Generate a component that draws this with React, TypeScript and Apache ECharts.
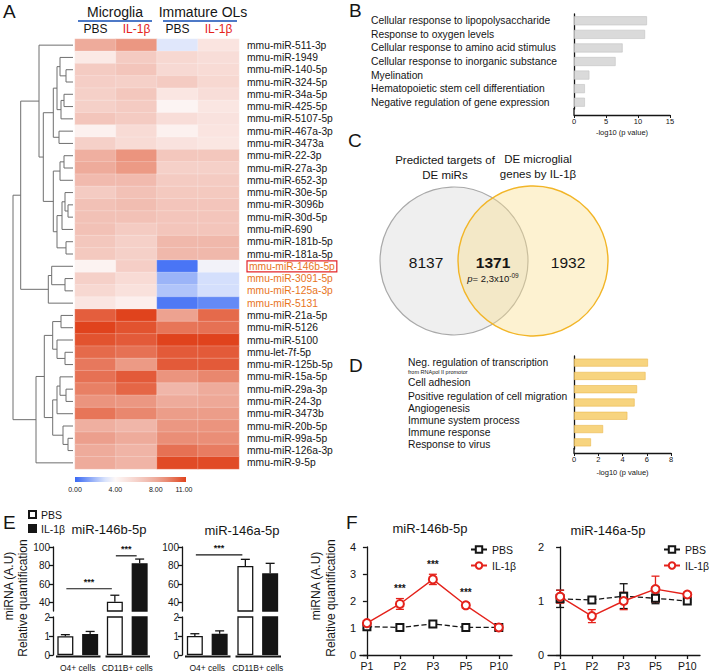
import React, { useEffect, useRef } from 'react';
import * as echarts from 'echarts';

const FONT = '"Liberation Sans", Arial, Helvetica, sans-serif';
const RED = '#e4221b';
const ORANGE = '#e8741c';
const INK = '#151515';

// ---------------- Panel A : heatmap ----------------
const heatColumns = ['PBS', 'IL-1β', 'PBS', 'IL-1β'];
const heatGroups = ['Microglia', 'Immature OLs'];
const mirnas = [
  'mmu-miR-511-3p', 'mmu-miR-1949', 'mmu-miR-140-5p', 'mmu-miR-324-5p', 'mmu-miR-34a-5p',
  'mmu-miR-425-5p', 'mmu-miR-5107-5p', 'mmu-miR-467a-3p', 'mmu-miR-3473a', 'mmu-miR-22-3p',
  'mmu-miR-27a-3p', 'mmu-miR-652-3p', 'mmu-miR-30e-5p', 'mmu-miR-3096b', 'mmu-miR-30d-5p',
  'mmu-miR-690', 'mmu-miR-181b-5p', 'mmu-miR-181a-5p', 'mmu-miR-146b-5p', 'mmu-miR-3091-5p',
  'mmu-miR-125a-3p', 'mmu-miR-5131', 'mmu-miR-21a-5p', 'mmu-miR-5126', 'mmu-miR-5100',
  'mmu-let-7f-5p', 'mmu-miR-125b-5p', 'mmu-miR-15a-5p', 'mmu-miR-29a-3p', 'mmu-miR-24-3p',
  'mmu-miR-3473b', 'mmu-miR-20b-5p', 'mmu-miR-99a-5p', 'mmu-miR-126a-3p', 'mmu-miR-9-5p',
];
const mgPBS = [8, 4.8, 6.5, 6.3, 6.2, 6.2, 6.8, 4.4, 6.2, 7.8, 8, 7.3, 6.5, 7, 7, 7, 6.7, 6.6, 4.3, 6.2, 5.8, 5, 10.3, 11, 10.6, 10, 9.6, 9.8, 9.4, 8.8, 9.7, 7.8, 8.4, 8, 8];
const mgIL = [8.7, 6.5, 6.8, 6.2, 6.7, 6.5, 6.5, 5.6, 5.6, 8.8, 8.6, 7.3, 7, 7.2, 7, 6.5, 6.2, 6.2, 6.3, 5.6, 5.3, 4.5, 11, 10.6, 10.4, 9.8, 8.6, 10.4, 10.1, 8.7, 9.2, 7.5, 8, 7.6, 7.6];
const olPBS = [3.2, 5.8, 5.7, 6.5, 5, 4.2, 5.5, 4.4, 5.2, 6.7, 6.2, 6.5, 6.6, 6.8, 6.8, 6.8, 7.4, 7.4, 0.3, 1.8, 2.2, 0.4, 8.3, 9.7, 11, 10.4, 10.4, 8.8, 7.5, 8, 8.5, 8.7, 9, 9.8, 10.8];
const olIL = [5.1, 5.5, 5.6, 5.8, 5.5, 5, 5.2, 5.1, 5, 6.7, 6.2, 6.5, 6.6, 6.8, 6.8, 6.8, 7.4, 7.4, 3.7, 2.9, 2.9, 0.8, 10, 9.8, 11, 10.4, 10.4, 9.2, 8, 8.1, 8.5, 8.8, 9, 9.5, 10.8];
const orangeMirnas = ['mmu-miR-146b-5p', 'mmu-miR-3091-5p', 'mmu-miR-125a-3p', 'mmu-miR-5131'];
const boxedMirna = 'mmu-miR-146b-5p';
const heatColors = ['#3a69f4', '#6f92f6', '#a6bcf9', '#d9e3fc', '#fdf8f7', '#fae6e2', '#f6d4cd', '#f2c1b6', '#eeab9b', '#ea8e77', '#e56a4b', '#e0431d'];
const heatMin = 0;
const heatMax = 11;
const colorbarTicks = [0, 4, 8, 11];
// linkage: [child, child, height]; children >= 35 refer to earlier merges
const dendroMerges: [number, number, number][] = [
  [2, 3, 7], [1, 35, 13], [4, 5, 9], [37, 6, 12], [36, 38, 16], [7, 8, 14], [39, 40, 19.7],
  [9, 10, 9], [42, 11, 13], [13, 14, 5], [12, 44, 8], [45, 15, 11], [16, 17, 7], [46, 47, 16],
  [43, 48, 19.7], [41, 49, 29.7], [0, 50, 34], [19, 20, 8], [18, 52, 21.3], [53, 21, 24.7],
  [51, 54, 52.3], [22, 23, 12], [25, 26, 8], [24, 57, 16], [56, 58, 20.3], [28, 29, 7],
  [27, 60, 13], [61, 30, 16], [32, 33, 5], [31, 63, 10], [62, 64, 20.3], [59, 65, 28.7],
  [66, 34, 37], [55, 67, 60],
];

// ---------------- Panel B ----------------
const bTerms = [
  'Cellular response to lipopolysaccharide', 'Response to oxygen levels',
  'Cellular response to amino acid stimulus', 'Cellular response to inorganic substance',
  'Myelination', 'Hematopoietic stem cell differentiation', 'Negative regulation of gene expression',
];
const bValues = [11.4, 11.1, 7.6, 6.5, 2.4, 1.7, 1.7];
const goAxisTitle = '-log10 (p value)';

// ---------------- Panel C ----------------
const vennLeftTitle = ['Predicted targets of', 'DE miRs'];
const vennRightTitle = ['DE microglial', 'genes by IL-1β'];
const vennCounts = ['8137', '1371', '1932'];
const vennP = ['p', '= 2,3x10', '-09'];

// ---------------- Panel D ----------------
const dTerms = [
  'Neg. regulation of transcription', 'Cell adhesion', 'Positive regulation of cell migration',
  'Angiogenesis', 'Immune system process', 'Immune response', 'Response to virus',
];
const dSubTerm = 'from RNApol II promotor';
const dValues = [6.1, 5.9, 5.2, 5.0, 4.4, 2.4, 1.4];

// ---------------- Panel E ----------------
const eCells = ['O4+ cells', 'CD11B+ cells'];
const e146bPBS = [0.99, 41];
const e146bPBSErr = [0.08, 7];
const e146bIL = [1.11, 82.5];
const e146bILErr = [0.13, 4.5];
const e146aPBS = [1.0, 79.5];
const e146aPBSErr = [0.12, 7.2];
const e146aIL = [1.12, 71.6];
const e146aILErr = [0.15, 10.8];
// [cell, condition, cell, condition, height]
const e146bSig = [[0, 0, 1, 0, 55], [1, 0, 1, 1, 90.5]];
const e146aSig = [[0, 0, 1, 0, 91.5]];

// ---------------- Panel F ----------------
const fTimes = ['P1', 'P2', 'P3', 'P5', 'P10'];
const f146bPBS = [1.05, 1.02, 1.15, 1.02, 1.02];
const f146bPBSErr = [0.06, 0.05, 0.1, 0.05, 0.1];
const f146bIL = [1.18, 1.89, 2.8, 1.84, 1.02];
const f146bILErr = [0.08, 0.2, 0.19, 0.1, 0.12];
const f146bSig = ['', '***', '***', '***', ''];
const f146aPBS = [1.04, 1.02, 1.09, 1.05, 1.0];
const f146aPBSErr = [0.16, 0.03, 0.23, 0.1, 0.02];
const f146aIL = [1.08, 0.72, 1.0, 1.22, 1.12];
const f146aILErr = [0.12, 0.12, 0.16, 0.24, 0.04];
const f146aSig = ['', '', '', '', ''];

// ============================================================
const txt = (text: string, x: number, y: number, size: number, extra: any = {}) => ({
  type: 'text', x, y, silent: true,
  style: { text, fontSize: size, fontFamily: FONT, fill: INK, align: 'left', verticalAlign: 'middle', ...extra },
});
const seg = (x1: number, y1: number, x2: number, y2: number, stroke = INK, lineWidth = 1.3) => ({
  type: 'line', silent: true, shape: { x1, y1, x2, y2 }, style: { stroke, lineWidth },
});

function buildOption() {
  const grid: any[] = [];
  const xAxis: any[] = [];
  const yAxis: any[] = [];
  const series: any[] = [];
  const axisLine = { show: true, lineStyle: { color: INK, width: 1.3 } };

  // ---- A heatmap (grid 0) ----
  grid.push({ left: 75, top: 39, width: 164, height: 430 });
  xAxis.push({
    gridIndex: 0, type: 'category', data: heatColumns, position: 'top',
    axisLine: { show: false }, axisTick: { show: false },
    axisLabel: {
      interval: 0, margin: 4, fontSize: 12, fontFamily: FONT, color: INK,
      formatter: (_v: string, i: number) => (i % 2 ? `{r|${heatColumns[i]}}` : heatColumns[i]),
      rich: { r: { color: RED, fontSize: 12, fontFamily: FONT } },
    },
  });
  yAxis.push({
    gridIndex: 0, type: 'category', data: mirnas, inverse: true, position: 'right',
    axisLine: { show: false }, axisTick: { show: false },
    axisLabel: {
      interval: 0, margin: 8, fontSize: 10.3, fontFamily: FONT, color: INK,
      formatter: (v: string) => (v === boxedMirna ? `{box|${v}}` : orangeMirnas.includes(v) ? `{o|${v}}` : v),
      rich: {
        o: { color: ORANGE, fontSize: 10.3, fontFamily: FONT },
        box: { color: ORANGE, fontSize: 10.3, fontFamily: FONT, borderColor: '#e3262b', borderWidth: 1.2, padding: [1, 2, 0, 2] },
      },
    },
  });
  const heat: any[] = [];
  [mgPBS, mgIL, olPBS, olIL].forEach((col, c) => col.forEach((v, r) => heat.push([c, r, v])));
  series.push({
    type: 'heatmap', xAxisIndex: 0, yAxisIndex: 0, data: heat,
    itemStyle: { borderColor: 'rgba(255,255,255,0.45)', borderWidth: 0.5 },
  });

  // ---- A dendrogram (grid 1) ----
  grid.push({ left: 13, top: 39, width: 60, height: 430 });
  xAxis.push({ gridIndex: 1, type: 'value', min: 0, max: 60, inverse: true, show: false });
  yAxis.push({ gridIndex: 1, type: 'value', min: -0.5, max: mirnas.length - 0.5, inverse: true, show: false });
  const pos: { y: number; h: number }[] = mirnas.map((_, i) => ({ y: i, h: 0 }));
  const links: number[][] = [];
  dendroMerges.forEach(([a, b, h]) => {
    const A = pos[a], B = pos[b];
    links.push([A.h, A.y, B.h, B.y, h]);
    pos.push({ y: (A.y + B.y) / 2, h });
  });
  series.push({
    type: 'custom', xAxisIndex: 1, yAxisIndex: 1, data: links, silent: true,
    encode: { x: [0, 2, 4], y: [1, 3] },
    renderItem: (_p: any, api: any) => {
      const hA = api.value(0), yA = api.value(1), hB = api.value(2), yB = api.value(3), h = api.value(4);
      return {
        type: 'polyline',
        shape: { points: [api.coord([hA, yA]), api.coord([h, yA]), api.coord([h, yB]), api.coord([hB, yB])] },
        style: { stroke: '#6f6f6f', lineWidth: 1, fill: null },
      };
    },
  });

  // ---- B (grid 2) ----
  grid.push({ left: 574, top: 14, width: 96, height: 95 });
  xAxis.push({
    gridIndex: 2, type: 'value', min: 0, max: 15, interval: 5, offset: 6,
    axisLine, axisTick: { show: true, length: 3, lineStyle: { color: INK } }, splitLine: { show: false },
    axisLabel: { fontSize: 7.5, margin: 2, fontFamily: FONT, color: INK },
    name: goAxisTitle, nameLocation: 'middle', nameGap: 13, nameTextStyle: { fontSize: 7.5, fontFamily: FONT, color: INK },
  });
  yAxis.push({
    gridIndex: 2, type: 'category', data: bTerms, inverse: true,
    axisLine, axisTick: { show: false },
    axisLabel: { interval: 0, align: 'left', margin: 203, fontSize: 10.3, fontFamily: FONT, color: INK },
  });
  series.push({
    type: 'bar', xAxisIndex: 2, yAxisIndex: 2, data: bValues, barWidth: 9,
    itemStyle: { color: '#dadada', borderColor: '#c2c2c2', borderWidth: 0.6 },
  });

  // ---- D (grid 3) ----
  grid.push({ left: 574, top: 356, width: 97, height: 93 });
  xAxis.push({
    gridIndex: 3, type: 'value', min: 0, max: 8, interval: 2, offset: 4,
    axisLine, axisTick: { show: true, length: 3, lineStyle: { color: INK } }, splitLine: { show: false },
    axisLabel: { fontSize: 7.5, margin: 2, fontFamily: FONT, color: INK },
    name: goAxisTitle, nameLocation: 'middle', nameGap: 15, nameTextStyle: { fontSize: 7.5, fontFamily: FONT, color: INK },
  });
  yAxis.push({
    gridIndex: 3, type: 'category', data: dTerms, inverse: true,
    axisLine, axisTick: { show: false }, axisLabel: { show: false },
  });
  series.push({
    type: 'bar', xAxisIndex: 3, yAxisIndex: 3, data: dValues, barWidth: 8,
    itemStyle: { color: '#f7d47f', borderColor: '#ebb94f', borderWidth: 0.6 },
  });

  // ---- E (grids 4..7) ----
  const UP_MIN = 31, UP_MAX = 100;
  const pbsStyle = { color: '#ffffff', borderColor: INK, borderWidth: 1.3 };
  const ilStyle = { color: INK, borderColor: INK, borderWidth: 1.3 };
  const OFF = 12.4;
  const eErr = (_p: any, api: any) => {
    const cat = api.value(0), side = api.value(1), m = api.value(2), e = api.value(3);
    const b = api.coord([cat, m]);
    const t = api.coord([cat, m + e]);
    const x = b[0] + (side ? OFF : -OFF);
    return {
      type: 'group', children: [
        { type: 'line', shape: { x1: x, y1: b[1], x2: x, y2: t[1] }, style: { stroke: INK, lineWidth: 1.3 } },
        { type: 'line', shape: { x1: x - 4.5, y1: t[1], x2: x + 4.5, y2: t[1] }, style: { stroke: INK, lineWidth: 1.3 } },
      ],
    };
  };
  const eBracket = (_p: any, api: any) => {
    const c1 = api.value(0), s1 = api.value(1), c2 = api.value(2), s2 = api.value(3), h = api.value(4);
    const p1 = api.coord([c1, h]);
    const p2 = api.coord([c2, h]);
    const x1 = p1[0] + (s1 ? OFF : -OFF) + 1;
    const x2 = p2[0] + (s2 ? OFF : -OFF) - 3;
    return {
      type: 'group', children: [
        { type: 'line', shape: { x1, y1: p1[1], x2, y2: p1[1] }, style: { stroke: INK, lineWidth: 1.2 } },
        { type: 'text', x: (x1 + x2) / 2, y: p1[1] - 2, style: { text: '***', fontSize: 9, fontWeight: 'bold', fontFamily: FONT, fill: INK, align: 'center', verticalAlign: 'bottom' } },
      ],
    };
  };
  const eGroupLine = (_p: any, api: any) => {
    const c = api.coord([api.value(0), 0]);
    const half = api.size([1, 0])[0] / 2;
    return { type: 'line', shape: { x1: c[0] - half + 3, y1: c[1] + 1.5, x2: c[0] + half - 2, y2: c[1] + 1.5 }, style: { stroke: INK, lineWidth: 2.2 } };
  };
  const makeE = (left: number, width: number, pbs: number[], pbsErr: number[], il: number[], ilErr: number[], sig: number[][]) => {
    const up = grid.length, lo = up + 1;
    grid.push({ left, top: 547, width, height: 64 });
    grid.push({ left, top: 617, width, height: 39 });
    xAxis.push({ gridIndex: up, type: 'category', data: eCells, show: false });
    xAxis.push({
      gridIndex: lo, type: 'category', data: eCells, axisLine: { show: false }, axisTick: { show: false },
      axisLabel: { interval: 0, fontSize: 8.5, margin: 8, fontFamily: FONT, color: INK },
    });
    yAxis.push({
      gridIndex: up, type: 'value', min: UP_MIN, max: UP_MAX, axisLine, splitLine: { show: false },
      axisTick: { show: true, length: 4, customValues: [40, 60, 80, 100], lineStyle: { color: INK, width: 1.3 } },
      axisLabel: { customValues: [40, 60, 80, 100], fontSize: 10, margin: 3, fontFamily: FONT, color: INK },
    });
    yAxis.push({
      gridIndex: lo, type: 'value', min: 0, max: 2, interval: 1, axisLine, splitLine: { show: false },
      axisTick: { show: true, length: 4, lineStyle: { color: INK, width: 1.3 } },
      axisLabel: { fontSize: 10, margin: 3, fontFamily: FONT, color: INK },
    });
    const base = { type: 'bar', barWidth: 16, barGap: '55%', clip: true };
    const inUp = (v: number) => (v > UP_MIN ? v : '-');
    series.push({ ...base, name: 'PBS', xAxisIndex: up, yAxisIndex: up, data: pbs.map(inUp), itemStyle: pbsStyle });
    series.push({ ...base, name: 'IL-1β', xAxisIndex: up, yAxisIndex: up, data: il.map(inUp), itemStyle: ilStyle });
    series.push({ ...base, name: 'PBS', xAxisIndex: lo, yAxisIndex: lo, data: pbs, itemStyle: pbsStyle });
    series.push({ ...base, name: 'IL-1β', xAxisIndex: lo, yAxisIndex: lo, data: il, itemStyle: ilStyle });
    const items = [
      ...pbs.map((m, i) => [i, 0, m, pbsErr[i]]),
      ...il.map((m, i) => [i, 1, m, ilErr[i]]),
    ];
    series.push({
      type: 'custom', xAxisIndex: up, yAxisIndex: up, silent: true, z: 5, encode: { x: 0, y: 2 },
      data: items.filter((d) => d[2] > UP_MIN), renderItem: eErr,
    });
    series.push({
      type: 'custom', xAxisIndex: lo, yAxisIndex: lo, silent: true, z: 5, encode: { x: 0, y: 2 },
      data: items.filter((d) => d[2] < 2), renderItem: eErr,
    });
    series.push({
      type: 'custom', xAxisIndex: up, yAxisIndex: up, silent: true, z: 5, encode: { x: 0, y: 4 },
      data: sig, renderItem: eBracket, clip: false,
    });
    series.push({
      type: 'custom', xAxisIndex: lo, yAxisIndex: lo, silent: true, z: 5, encode: { x: 0, y: 1 },
      data: eCells.map((_, i) => [i, 0]), renderItem: eGroupLine, clip: false,
    });
  };
  makeE(53, 99, e146bPBS, e146bPBSErr, e146bIL, e146bILErr, e146bSig);
  makeE(182, 101, e146aPBS, e146aPBSErr, e146aIL, e146aILErr, e146aSig);

  // ---- F ----
  const fErr = (_p: any, api: any) => {
    const x = api.value(0), m = api.value(1), e = api.value(2), kind = api.value(3);
    const c = kind ? RED : INK;
    const a = api.coord([x, m - e]);
    const b = api.coord([x, m + e]);
    const st = { stroke: c, lineWidth: 1.3 };
    return {
      type: 'group', children: [
        { type: 'line', shape: { x1: a[0], y1: a[1], x2: b[0], y2: b[1] }, style: st },
        { type: 'line', shape: { x1: a[0] - 4, y1: a[1], x2: a[0] + 4, y2: a[1] }, style: st },
        { type: 'line', shape: { x1: b[0] - 4, y1: b[1], x2: b[0] + 4, y2: b[1] }, style: st },
      ],
    };
  };
  const makeF = (left: number, xmin: number, ymax: number, pbs: number[], pbsErr: number[], il: number[], ilErr: number[], sig: string[]) => {
    const g = grid.length;
    grid.push({ left, top: 547, width: 152, height: 108 });
    const ticks = fTimes.map((_, i) => i);
    xAxis.push({
      gridIndex: g, type: 'value', min: xmin, max: 4.4, axisLine, splitLine: { show: false },
      axisTick: { show: true, length: 4, customValues: ticks, lineStyle: { color: INK, width: 1.3 } },
      axisLabel: { customValues: ticks, formatter: (v: number) => fTimes[Math.round(v)] || '', fontSize: 10.5, margin: 5, fontFamily: FONT, color: INK },
    });
    yAxis.push({
      gridIndex: g, type: 'value', min: 0, max: ymax, interval: 1, axisLine, splitLine: { show: false },
      axisTick: { show: true, length: 4, lineStyle: { color: INK, width: 1.3 } },
      axisLabel: { fontSize: 11, margin: 4, fontFamily: FONT, color: INK },
    });
    series.push({
      type: 'custom', xAxisIndex: g, yAxisIndex: g, silent: true, z: 2, encode: { x: 0, y: 1 },
      data: [...pbs.map((m, i) => [i, m, pbsErr[i], 0]), ...il.map((m, i) => [i, m, ilErr[i], 1])],
      renderItem: fErr,
    });
    series.push({
      type: 'line', name: 'PBS ', xAxisIndex: g, yAxisIndex: g, data: pbs.map((v, i) => [i, v]),
      symbol: 'emptyRect', symbolSize: 7, z: 3,
      lineStyle: { type: 'dashed', width: 1.3, color: INK }, itemStyle: { color: INK, borderWidth: 1.3 },
    });
    series.push({
      type: 'line', name: 'IL-1β ', xAxisIndex: g, yAxisIndex: g, data: il.map((v, i) => [i, v]),
      symbol: 'emptyCircle', symbolSize: 8, z: 4,
      lineStyle: { width: 1.4, color: RED }, itemStyle: { color: RED, borderWidth: 1.3 },
    });
    const sigIdx = sig.map((s, i) => (s ? i : -1)).filter((i) => i >= 0);
    series.push({
      type: 'custom', xAxisIndex: g, yAxisIndex: g, silent: true, z: 5, encode: { x: 0, y: 1 },
      data: sigIdx.map((i) => [i, il[i] + ilErr[i]]),
      renderItem: (_p: any, api: any) => {
        const i = api.value(0);
        const p = api.coord([i, api.value(1)]);
        return { type: 'text', x: p[0], y: p[1] - 5, style: { text: sig[i], fontSize: 10, fontWeight: 'bold', fontFamily: FONT, fill: INK, align: 'center', verticalAlign: 'bottom' } };
      },
    });
  };
  makeF(360, -0.21, 4, f146bPBS, f146bPBSErr, f146bIL, f146bILErr, f146bSig);
  makeF(548, -0.38, 2, f146aPBS, f146aPBSErr, f146aIL, f146aILErr, f146aSig);

  // ---- graphics ----
  const cbStops = heatColors.map((c, i) => ({ offset: i / (heatColors.length - 1), color: c }));
  const CB_X = 75, CB_W = 111;
  const dLabelY = [362, 382, 396, 408, 420, 432, 444];
  const graphic: any[] = [
    txt('A', 3, 11, 19), txt('B', 349, 10, 19), txt('C', 348, 140, 19),
    txt('D', 349, 365, 19), txt('E', 3, 522, 19), txt('F', 346, 522, 19),
    // A headers
    txt(heatGroups[0], 115, 12, 14, { align: 'center' }),
    txt(heatGroups[1], 203, 12, 14, { align: 'center' }),
    seg(78, 21, 152, 21, '#4d79c7', 1.8), seg(163, 21, 237, 21, '#4d79c7', 1.8),
    // colorbar
    { type: 'rect', silent: true, shape: { x: CB_X, y: 477, width: CB_W, height: 5 }, style: { fill: new echarts.graphic.LinearGradient(0, 0, 1, 0, cbStops) } },
    ...colorbarTicks.map((t) => txt(t.toFixed(2), CB_X + ((t - heatMin) / (heatMax - heatMin)) * CB_W - (t === heatMax ? 2 : 0), 489, 7, { align: 'center' })),
    // B / D axis extensions
    seg(574, 108, 574, 115), seg(574, 448, 574, 453),
    // C venn
    { type: 'circle', silent: true, shape: { cx: 454, cy: 261, r: 74 }, style: { fill: '#efefef', stroke: '#a9a9a9', lineWidth: 1.2 } },
    { type: 'circle', silent: true, shape: { cx: 533, cy: 261, r: 75 }, style: { fill: 'rgba(250,222,140,0.4)', stroke: '#f2b527', lineWidth: 1.4 } },
    txt(vennLeftTitle[0], 445, 160, 11.5, { align: 'center' }),
    txt(vennLeftTitle[1], 445, 175, 11.5, { align: 'center' }),
    txt(vennRightTitle[0], 538, 159, 11.5, { align: 'center' }),
    txt(vennRightTitle[1], 538, 174, 11.5, { align: 'center' }),
    txt(vennCounts[0], 426, 262, 15.5, { align: 'center' }),
    txt(vennCounts[1], 493, 262, 15.5, { align: 'center', fontWeight: 'bold' }),
    txt(vennCounts[2], 568, 262, 15.5, { align: 'center' }),
    {
      type: 'text', x: 493, y: 278, silent: true,
      style: {
        text: `{i|${vennP[0]}}{n|${vennP[1]}}{s|${vennP[2]}}`, align: 'center', verticalAlign: 'middle',
        rich: {
          i: { fontSize: 9.5, fontStyle: 'italic', fontFamily: FONT, fill: INK },
          n: { fontSize: 9.5, fontFamily: FONT, fill: INK },
          s: { fontSize: 6.5, fontFamily: FONT, fill: INK, padding: [0, 0, 6, 0] },
        },
      },
    },
    // D labels
    ...dTerms.map((t, i) => txt(t, 408, dLabelY[i], 10.3)),
    txt(dSubTerm, 408, 372, 5.5),
    // E / F titles
    txt('miR-146b-5p', 109, 529, 13, { align: 'center' }),
    txt('miR-146a-5p', 242, 530, 13, { align: 'center' }),
    txt('miR-146b-5p', 430, 528, 13, { align: 'center' }),
    txt('miR-146a-5p', 608, 530, 13, { align: 'center' }),
    // y titles
    { ...txt('miRNA (A.U)', 9, 586, 12, { align: 'center' }), rotation: Math.PI / 2 },
    { ...txt('Relative quantification', 23, 598, 12, { align: 'center' }), rotation: Math.PI / 2 },
    { ...txt('miRNA (A.U)', 316, 586, 12, { align: 'center' }), rotation: Math.PI / 2 },
    { ...txt('Relative quantification', 331, 598, 12, { align: 'center' }), rotation: Math.PI / 2 },
  ];

  const legendText = { fontSize: 10.5, fontFamily: FONT, color: INK };
  return {
    animation: false,
    backgroundColor: '#ffffff',
    textStyle: { fontFamily: FONT },
    grid, xAxis, yAxis, series, graphic,
    visualMap: { type: 'continuous', min: heatMin, max: heatMax, show: false, seriesIndex: 0, inRange: { color: heatColors } },
    legend: [
      {
        left: 28, top: 509, orient: 'vertical', itemWidth: 7, itemHeight: 7, itemGap: 3, padding: 0,
        selectedMode: false, textStyle: legendText,
        data: [{ name: 'PBS', icon: 'rect' }, { name: 'IL-1β', icon: 'rect' }],
      },
      {
        left: 470, top: 544, orient: 'vertical', itemWidth: 16, itemHeight: 8, itemGap: 5, padding: 0,
        selectedMode: false, textStyle: legendText, data: ['PBS ', 'IL-1β '], formatter: (n: string) => n.trim(),
      },
      {
        left: 663, top: 544, orient: 'vertical', itemWidth: 16, itemHeight: 8, itemGap: 5, padding: 0,
        selectedMode: false, textStyle: legendText, data: ['PBS ', 'IL-1β '], formatter: (n: string) => n.trim(),
      },
    ],
  };
}

export default function App() {
  const ref = useRef<HTMLDivElement>(null);
  useEffect(() => {
    if (!ref.current) return;
    const chart = echarts.init(ref.current, null, { renderer: 'svg' });
    chart.setOption(buildOption() as any);
    return () => chart.dispose();
  }, []);
  return <div ref={ref} style={{ position: 'absolute', left: 0, top: 0, width: 709, height: 672, background: '#fff' }} />;
}
